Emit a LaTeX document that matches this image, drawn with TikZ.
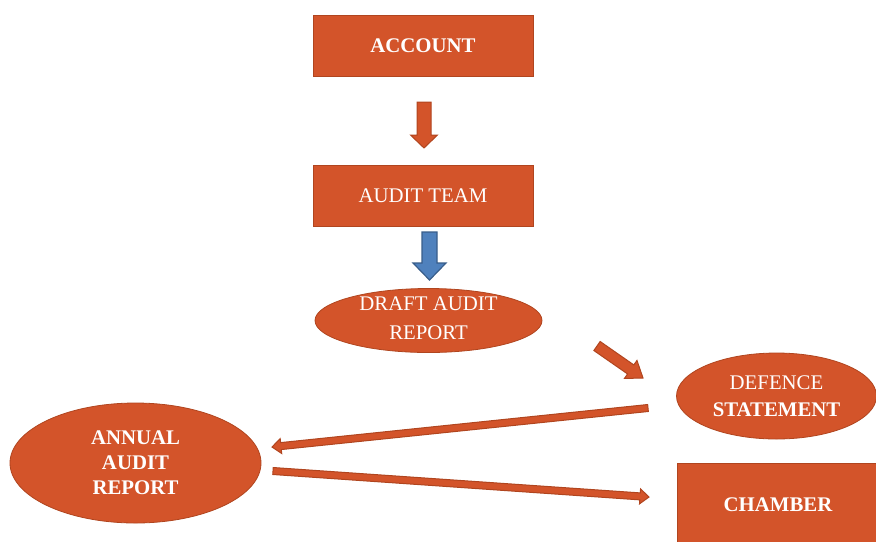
\documentclass[tikz,border=0pt]{standalone}
\usepackage{fontspec}
\setmainfont{Liberation Serif}
\usetikzlibrary{shapes.geometric,calc}

\definecolor{rust}{HTML}{D3542A}
\definecolor{rustline}{HTML}{B0451F}
\definecolor{steel}{HTML}{4F81BD}
\definecolor{steelline}{HTML}{385D8A}

% style, tail, tip, half shaft, half head, head length
\newcommand{\blockarrow}[6][]{%
  \coordinate (neck) at ($(#3)!#6!(#2)$);
  \draw[#1] ($(#2)!#4!90:(#3)$) -- ($(neck)!#4!90:(#3)$) -- ($(neck)!#5!90:(#3)$) -- (#3)
    -- ($(neck)!#5!-90:(#3)$) -- ($(neck)!#4!-90:(#3)$) -- ($(#2)!#4!-90:(#3)$) -- cycle;}

\begin{document}
\begin{tikzpicture}[x=0.5pt,y=-0.5pt]
\tikzstyle{every node}=[text=white,font=\fontsize{10.4}{12.5}\selectfont,align=center];
\tikzstyle{box}=[draw=rustline,fill=rust,minimum width=110pt,minimum height=30.5pt];
\tikzstyle{oval}=[ellipse,draw=rustline,fill=rust,inner sep=0pt];
\tikzstyle{bar}=[draw=rustline,fill=rust,line width=0.5pt];
\tikzstyle{bluebar}=[draw=steelline,fill=steel,line width=0.6pt];
\useasboundingbox (0,0) rectangle (876,541);
\clip (0,0) rectangle (876,541);

\node[box] (account) at (423,45.5) {\bfseries ACCOUNT};
\node[box] (team) at (423,195.5) {AUDIT TEAM};
\node[oval,minimum width=113.5pt,minimum height=32pt,
  label={[font=\fontsize{10.4}{14.5}\selectfont,yshift=1pt]center:DRAFT AUDIT\\REPORT}] (draft) at (428.5,320.5) {};
\node[oval,minimum width=100pt,minimum height=43pt,font=\fontsize{10.4}{13.5}\selectfont] (defence) at (776.5,396)
  {DEFENCE\\\bfseries STATEMENT};
\node[oval,minimum width=125.5pt,minimum height=60pt,font=\bfseries\fontsize{10.4}{12.5}\selectfont] (annual) at (135.5,463)
  {ANNUAL\\AUDIT\\REPORT};
\node[box,minimum width=101pt,minimum height=42pt] (chamber) at (778,505) {\bfseries CHAMBER};

\coordinate (a1) at (424,102);
\coordinate (a2) at (424,148);
\coordinate (b1) at (429.5,232);
\coordinate (b2) at (429.5,280);
\coordinate (c1) at (597,346);
\coordinate (c2) at (643,378);
\coordinate (d1) at (648,408);
\coordinate (d2) at (272,447);
\coordinate (e1) at (273,471);
\coordinate (e2) at (649,497);

\blockarrow[bar]{a1}{a2}{3.5pt}{6.75pt}{6.5pt}
\blockarrow[bluebar]{b1}{b2}{3.75pt}{8.25pt}{8.5pt}
\blockarrow[bar]{c1}{c2}{2.75pt}{5.5pt}{7.5pt}
\blockarrow[bar]{d1}{d2}{1.75pt}{3.75pt}{4.5pt}
\blockarrow[bar]{e1}{e2}{1.75pt}{3.75pt}{4.5pt}
\end{tikzpicture}
\end{document}
